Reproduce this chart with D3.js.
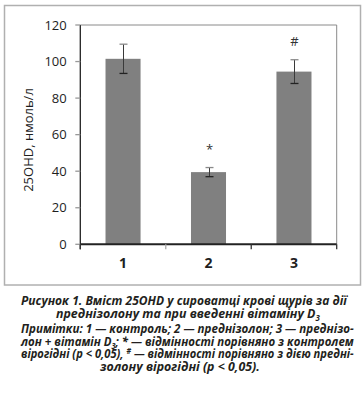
<!DOCTYPE html>
<html lang="uk">
<meta charset="utf-8">
<head>
	<title>25OHD</title>
</head>
<style type="text/css">
	body { margin: 0; background: white; }
	.tickLabel { font-family: 'Open Sans', sans-serif; font-size: 13px; fill: #1e1e1e; }
	.catLabel { font-family: 'Open Sans', sans-serif; font-size: 14px; font-weight: 700; fill: #1e1e1e; }
	.axisTitle { font-family: 'Open Sans', sans-serif; font-size: 13px; fill: #1e1e1e; }
	.mark { font-family: 'Open Sans', sans-serif; font-size: 13px; fill: #333; }
	.caption { font-family: 'Open Sans', sans-serif; font-size: 12.5px; font-weight: 700; font-style: italic; fill: #231f20; }
</style>
<script src="https://d3js.org/d3.v7.min.js"></script>
<body>
<script type="text/javascript">

	// data
	var categories = ["1", "2", "3"];
	var values = [101.5, 39.5, 94.5];
	var errors = [8, 2.5, 6.5];
	var marks = ["", "*", "#"];
	var yTicks = [0, 20, 40, 60, 80, 100, 120];

	var width = 364, height = 394;
	var plotLeft = 80.3, plotRight = 336.7, plotTop = 25, plotBottom = 244.3;

	var svg = d3.select("body").append("svg")
				.attr("width", width)
				.attr("height", height);

	// outer frame
	svg.append("rect")
	   .attr("x", 4.5).attr("y", 5.5)
	   .attr("width", 356).attr("height", 279.5)
	   .attr("fill", "none")
	   .attr("stroke", "#b0b0b0")
	   .attr("stroke-width", 1.5);

	var x = d3.scaleBand()
			  .domain(categories)
			  .range([plotLeft, plotRight])
			  .paddingInner(0.59)
			  .paddingOuter(0.295);

	var y = d3.scaleLinear()
			  .domain([0, 120])
			  .range([plotBottom, plotTop]);

	// plot frame (top + right)
	svg.append("path")
	   .attr("d", "M" + plotLeft + "," + plotTop + "H" + plotRight + "V" + plotBottom)
	   .attr("fill", "none")
	   .attr("stroke", "#8a8a8a")
	   .attr("stroke-width", 1);

	// bars
	svg.selectAll(".bar")
	   .data(values)
	   .enter().append("rect")
	   .attr("class", "bar")
	   .attr("x", function(d, i) { return x(categories[i]); })
	   .attr("y", function(d) { return y(d); })
	   .attr("width", x.bandwidth())
	   .attr("height", function(d) { return plotBottom - y(d); })
	   .attr("fill", "#808080");

	// error bars
	var capW = 4;
	values.forEach(function(v, i) {
		var cx = Math.round(x(categories[i]) + x.bandwidth() / 2) + 0.5;
		var yTop = y(v + errors[i]), yBot = y(v - errors[i]);
		svg.append("line")
		   .attr("x1", cx).attr("x2", cx)
		   .attr("y1", yTop).attr("y2", yBot)
		   .attr("stroke", "#3a3a3a").attr("stroke-width", 1);
		svg.append("line")
		   .attr("x1", cx - capW).attr("x2", cx + capW)
		   .attr("y1", yTop).attr("y2", yTop)
		   .attr("stroke", "#8a8a8a").attr("stroke-width", 1.3);
		svg.append("line")
		   .attr("x1", cx - capW).attr("x2", cx + capW)
		   .attr("y1", yBot).attr("y2", yBot)
		   .attr("stroke", "#222").attr("stroke-width", 1.3);
		if (marks[i]) {
			svg.append("text")
			   .attr("class", "mark")
			   .attr("text-anchor", "middle")
			   .attr("x", cx)
			   .attr("y", yTop - 13.5)
			   .text(marks[i]);
		}
	});

	// y axis
	var yAxis = svg.append("g");
	yAxis.append("line")
		 .attr("x1", plotLeft).attr("x2", plotLeft)
		 .attr("y1", plotTop).attr("y2", plotBottom + 5)
		 .attr("stroke", "#222").attr("stroke-width", 1.3);
	yAxis.selectAll(".ytick")
		 .data(yTicks)
		 .enter().append("line")
		 .attr("x1", plotLeft - 5).attr("x2", plotLeft)
		 .attr("y1", function(d) { return y(d); })
		 .attr("y2", function(d) { return y(d); })
		 .attr("stroke", "#999").attr("stroke-width", 1.3);
	yAxis.selectAll(".tickLabel")
		 .data(yTicks)
		 .enter().append("text")
		 .attr("class", "tickLabel")
		 .attr("text-anchor", "end")
		 .attr("x", 66.7)
		 .attr("y", function(d) { return y(d); })
		 .attr("dy", "0.36em")
		 .text(function(d) { return d; });

	svg.append("text")
	   .attr("class", "axisTitle")
	   .attr("text-anchor", "middle")
	   .attr("transform", "translate(33," + 140 + ")rotate(-90)")
	   .text("25OHD, нмоль/л");

	// x axis
	svg.append("line")
	   .attr("x1", plotLeft).attr("x2", plotRight)
	   .attr("y1", plotBottom).attr("y2", plotBottom)
	   .attr("stroke", "#222").attr("stroke-width", 2);
	var bounds = [plotLeft, plotLeft + x.step(), plotLeft + 2 * x.step(), plotRight];
	svg.selectAll(".xtick")
	   .data(bounds)
	   .enter().append("line")
	   .attr("x1", function(d) { return d; })
	   .attr("x2", function(d) { return d; })
	   .attr("y1", plotBottom)
	   .attr("y2", plotBottom + 5)
	   .attr("stroke", function(d, i) { return i == 1 ? "#aaa" : "#333"; })
	   .attr("stroke-width", 1.3);

	svg.selectAll(".catLabel")
	   .data(categories)
	   .enter().append("text")
	   .attr("class", "catLabel")
	   .attr("text-anchor", "middle")
	   .attr("x", function(d) { return x(d) + x.bandwidth() / 2; })
	   .attr("y", 268)
	   .text(function(d) { return d; });

	// caption lines: parts [text, kind], target left/right edges, baseline
	var captionLines = [
		{ parts: [["Рисунок 1. Вміст 25OHD у сироватці крові щурів за дії", ""]], x0: 21, x1: 347, y: 305 },
		{ parts: [["преднізолону та при введенні вітаміну D", ""], ["3", "sub"]], x0: 56, x1: 320, y: 317.5 },
		{ parts: [["Примітки: 1 — контроль; 2 — преднізолон; 3 — преднізо-", ""]], x0: 21, x1: 354, y: 333 },
		{ parts: [["лон + вітамін D", ""], ["3", "sub"], ["; * — відмінності порівняно з контролем", ""]], x0: 21, x1: 354, y: 345.5 },
		{ parts: [["вірогідні (p < 0,05), ", ""], ["#", "sup"], [" — відмінності порівняно з дією предні-", ""]], x0: 21, x1: 354, y: 358 },
		{ parts: [["золону вірогідні (p < 0,05).", ""]], x0: 100, x1: 260, y: 370.5 }
	];

	captionLines.forEach(function(line) {
		var g = svg.append("g");
		var t = g.append("text").attr("class", "caption").attr("x", 0).attr("y", 0);
		var shift = 0;
		line.parts.forEach(function(p) {
			var ts = t.append("tspan").text(p[0]);
			if (p[1] == "sub") {
				ts.attr("font-size", "8px").attr("dy", 3 - shift);
				shift = 3;
			} else if (p[1] == "sup") {
				ts.attr("font-size", "8px").attr("dy", -4 - shift);
				shift = -4;
			} else if (shift != 0) {
				ts.attr("dy", -shift);
				shift = 0;
			}
		});
		var w = t.node().getComputedTextLength();
		var sx = (line.x1 - line.x0) / w;
		g.attr("transform", "translate(" + line.x0 + "," + line.y + ")scale(" + sx + ",1)");
	});

</script>
</body>
</html>
